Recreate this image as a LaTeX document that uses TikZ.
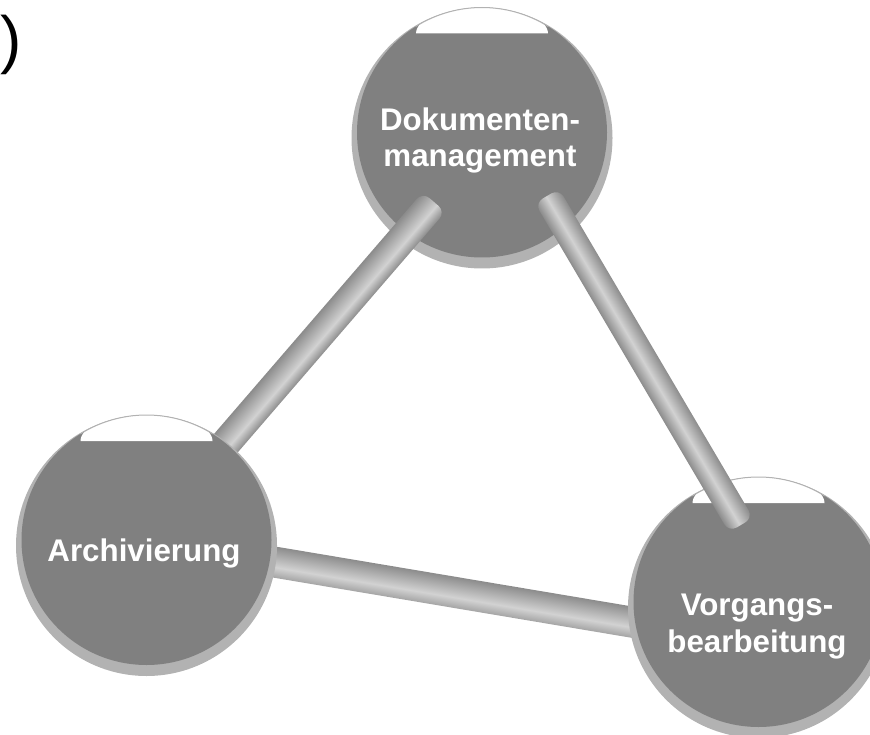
\documentclass[tikz,border=0pt]{standalone}
\usepackage{fontspec}
\setmainfont{Liberation Sans}
\usetikzlibrary{calc}
\definecolor{ballc}{HTML}{808080}
\definecolor{ringc}{HTML}{B2B2B2}
\definecolor{baredge}{HTML}{8C8C8C}
\definecolor{barhl}{HTML}{D2D2D2}
\definecolor{barlow}{HTML}{A4A4A4}
\pgfdeclareverticalshading{cylA}{100bp}{color(0bp)=(baredge); color(25bp)=(baredge); color(43bp)=(barhl); color(75bp)=(baredge); color(100bp)=(baredge)}
\pgfdeclareverticalshading{cylB}{100bp}{color(0bp)=(baredge); color(25bp)=(baredge); color(48bp)=(barhl); color(75bp)=(baredge); color(100bp)=(baredge)}
\pgfdeclareverticalshading{bandC}{100bp}{color(0bp)=(barlow); color(25bp)=(barlow); color(42bp)=(barhl); color(75bp)=(baredge); color(100bp)=(baredge)}
\tikzset{
  ballnode/.style={circle, fill=ballc, minimum size=250, inner sep=0, draw=none},
  balltext/.style={text=white, font=\bfseries\fontsize{31.3}{36.5}\selectfont, align=center, inner sep=0},
}
\newcommand{\ballat}[3]{%
  \fill[ringc] (#2,#3-5.5) circle[radius=130.5];
  \node[ballnode] (#1) at (#2,#3) {};
  \begin{scope}
    \clip (#1.center) circle[radius=125];
    \fill[white] ($(#1.center)+(-66,99)$) arc[start angle=180,end angle=0,x radius=66,y radius=27] -- cycle;
  \end{scope}
  \draw[ringc, line width=1] ($(#1.center)+(58:125)$) arc[start angle=58,end angle=122,radius=125];
}
% #1 from, #2 to, #3 width, #4 shading, #5 corner radius
\newcommand{\rodbetween}[5]{%
  \pgfmathanglebetweenpoints{\pgfpointanchor{#1}{center}}{\pgfpointanchor{#2}{center}}%
  \let\rodang\pgfmathresult
  \pgfpointdiff{\pgfpointanchor{#1}{center}}{\pgfpointanchor{#2}{center}}%
  \pgfgetlastxy{\rodx}{\rody}%
  \pgfmathveclen{\rodx}{\rody}\let\rodlen\pgfmathresult
  \begin{scope}[transform canvas={shift={(#1)}, rotate=\rodang}]
    \shade[shading=#4, rounded corners=#5] (0,-#3/2) rectangle (\rodlen,#3/2);
  \end{scope}
}
\begin{document}
\begin{tikzpicture}[x=1pt,y=1pt]
\clip (0,0) rectangle (870,-735);
\useasboundingbox (0,0) rectangle (870,-735);
% bar ends
\coordinate (b1a) at (220,-450);
\coordinate (b1b) at (434,-202);
\coordinate (b2a) at (547,-196);
\coordinate (b2b) at (741,-525);
\coordinate (b3a) at (268,-561);
\coordinate (b3b) at (637,-623);
% band between left and right
\rodbetween{b3a}{b3b}{31}{bandC}{0}
% top ball
\ballat{dm}{482}{-132.5}
% bar left-top
\rodbetween{b1a}{b1b}{30}{cylA}{9}
% left ball
\ballat{ar}{146.5}{-540}
% right ball
\ballat{vb}{758.5}{-602}
% bar top-right
\rodbetween{b2a}{b2b}{28}{cylB}{9}
% texts
\node[balltext] (dmt) at ($(dm)+(-2,-8.1)$) {Dokumenten-\\management};
\node[balltext] (art) at ($(ar)+(-2.5,-13.8)$) {Archivierung};
\node[balltext] (vbt) at ($(vb)+(-1.5,-24.5)$) {Vorgangs-\\bearbeitung};
\node[font=\fontsize{64}{70}\selectfont, anchor=base west, inner sep=0] (paren) at (0,-61.5) {)};
\end{tikzpicture}
\end{document}
